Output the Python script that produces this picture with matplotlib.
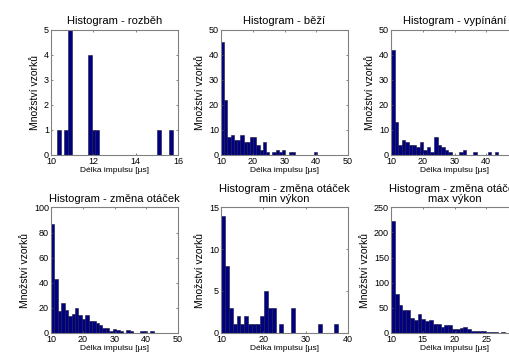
import numpy
import matplotlib
matplotlib.use("Agg")
import matplotlib.pyplot as plt

plt.rcParams['font.family'] = ['Liberation Sans', 'DejaVu Sans']

titles = ["Histogram - rozběh", "Histogram - běží", "Histogram - vypínání",
          "Histogram - změna otáček", "Histogram - změna otáček\nmin výkon",
          "Histogram - změna otáček\nmax výkon"]

# 30 bins each: first bin start, bin width, counts
start_rozbeh, width_rozbeh = 10.27, 0.183
counts_rozbeh = [1, 0, 1, 5, 0, 0, 0, 0, 4, 1, 1, 0, 0, 0, 0,
                 0, 0, 0, 0, 0, 0, 0, 0, 0, 0, 0, 1, 0, 0, 1]

start_bezi, width_bezi = 10.0, 1.013
counts_bezi = [45, 22, 7, 8, 6, 6, 8, 5, 5, 7, 7, 4, 2, 5, 1,
               0, 1, 2, 1, 2, 0, 1, 1, 0, 0, 0, 0, 0, 0, 1]

start_vyp, width_vyp = 10.0, 1.127
counts_vyp = [42, 13, 4, 6, 5, 4, 4, 3, 5, 2, 3, 1, 7, 4, 3,
              2, 1, 0, 0, 1, 2, 0, 0, 1, 0, 0, 0, 1, 0, 1]

start_zmena, width_zmena = 10.0, 1.08
counts_zmena = [87, 43, 17, 24, 18, 13, 15, 20, 14, 11, 14, 9, 9, 8, 6,
                4, 4, 1, 3, 2, 1, 0, 2, 1, 0, 0, 1, 1, 0, 1]

start_min, width_min = 10.0, 0.92
counts_min = [14, 8, 3, 1, 2, 1, 2, 1, 1, 1, 2, 5, 3, 3, 0,
              1, 0, 0, 3, 0, 0, 0, 0, 0, 0, 1, 0, 0, 0, 1]

start_max, width_max = 10.0, 0.6
counts_max = [222, 78, 55, 46, 45, 30, 25, 38, 27, 23, 25, 18, 17, 12, 15,
              16, 8, 7, 9, 11, 7, 4, 3, 3, 4, 2, 2, 1, 0, 1]

starts = [start_rozbeh, start_bezi, start_vyp, start_zmena, start_min, start_max]
widths = [width_rozbeh, width_bezi, width_vyp, width_zmena, width_min, width_max]
counts = [counts_rozbeh, counts_bezi, counts_vyp, counts_zmena, counts_min, counts_max]

xlims = [(10, 16), (10, 50), (10, 50), (10, 50), (10, 40), (10, 30)]
xticks = [[10, 12, 14, 16], [10, 20, 30, 40, 50], [10, 20, 30, 40, 50],
          [10, 20, 30, 40, 50], [10, 20, 30, 40], [10, 15, 20, 25, 30]]
ylims = [(0, 5), (0, 50), (0, 50), (0, 100), (0, 15), (0, 250)]
yticks = [[0, 1, 2, 3, 4, 5], [0, 10, 20, 30, 40, 50], [0, 10, 20, 30, 40, 50],
          [0, 20, 40, 60, 80, 100], [0, 5, 10, 15], [0, 50, 100, 150, 200, 250]]

W, H = 509.0, 356.0
fig = plt.figure(figsize=(W / 100, H / 100), dpi=100)

lefts = [51, 221, 391]
bottoms = [154.5, 332.5]
aw, ah = 127, 125

for k in range(6):
    r, c = divmod(k, 3)
    ax = fig.add_axes([lefts[c] / W, 1 - bottoms[r] / H, aw / W, ah / H])
    n = len(counts[k])
    edges = starts[k] + widths[k] * numpy.arange(n)
    ax.bar(edges, counts[k], width=widths[k], align='edge',
           facecolor='#000080', edgecolor='#1a1a40', linewidth=0.4)
    ax.set_xlim(*xlims[k])
    ax.set_ylim(*ylims[k])
    ax.set_xticks(xticks[k])
    ax.set_yticks(yticks[k])
    ax.tick_params(direction='in', length=1.5, width=0.5, labelsize=6.5,
                   top=True, right=True, pad=1.5, color='#555555')
    for s in ax.spines.values():
        s.set_color('#808080')
        s.set_linewidth(0.8)
    ax.set_title(titles[k], fontsize=8, pad=4, linespacing=1.05)
    ax.set_xlabel('Délka impulsu [µs]', fontsize=6, labelpad=1)
    ax.set_ylabel('Množství vzorků', fontsize=7.5, labelpad=3)

fig.savefig('out.png', dpi=100)
